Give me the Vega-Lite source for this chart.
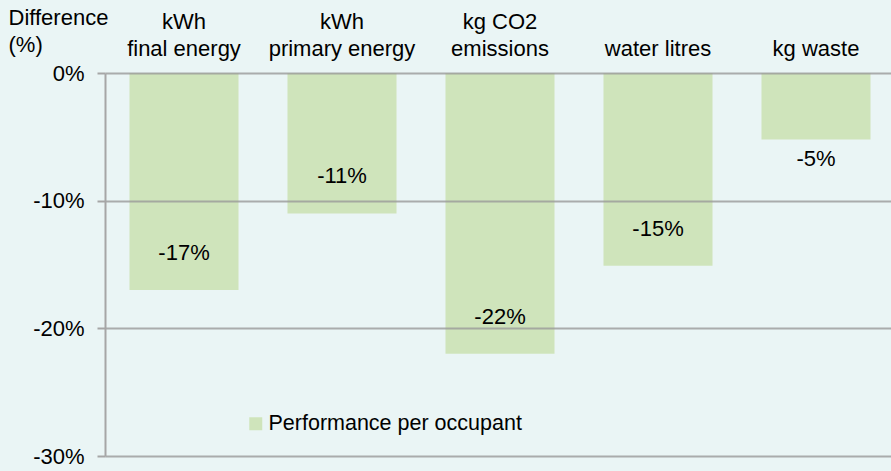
{
  "$schema": "https://vega.github.io/schema/vega-lite/v6.json",
  "width": 790,
  "height": 383,
  "autosize": {"type": "none"},
  "padding": {"left": 105, "top": 73, "right": 0, "bottom": 15},
  "background": "#eaf5f5",
  "config": {
    "locale": {"number": {"decimal": ".", "thousands": ",", "grouping": [3], "currency": ["$", ""], "minus": "-", "percent": "%"}},
    "view": {"stroke": null},
    "font": "Liberation Sans"
  },
  "data": {
    "values": [
      {"category": "kWh|final energy", "series": "Performance per occupant", "value": -0.17},
      {"category": "kWh|primary energy", "series": "Performance per occupant", "value": -0.11},
      {"category": "kg CO2|emissions", "series": "Performance per occupant", "value": -0.22},
      {"category": "|water litres", "series": "Performance per occupant", "value": -0.151},
      {"category": "|kg waste", "series": "Performance per occupant", "value": -0.052}
    ]
  },
  "encoding": {
    "x": {
      "field": "category",
      "type": "nominal",
      "sort": null,
      "scale": {"paddingInner": 0.31, "paddingOuter": 0.155},
      "axis": {
        "orient": "top",
        "title": null,
        "domain": false,
        "ticks": false,
        "labelAngle": 0,
        "labelExpr": "split(datum.label, '|')",
        "labelFontSize": 22,
        "labelLineHeight": 27,
        "labelPadding": 40,
        "labelColor": "#000000",
        "labelBaseline": "bottom",
        "labelLimit": 0
      }
    }
  },
  "layer": [
    {
      "mark": {"type": "bar"},
      "encoding": {
        "y": {
          "field": "value",
          "type": "quantitative",
          "scale": {"domain": [-0.3, 0], "nice": false},
          "axis": {
            "values": [0, -0.1, -0.2, -0.3],
            "format": ".0%",
            "title": ["Difference", "(%)"],
            "titleAngle": 0,
            "titleAlign": "left",
            "titleBaseline": "top",
            "titleX": -97,
            "titleY": -66,
            "titleFontWeight": "normal",
            "titleFontSize": 22,
            "titleLineHeight": 27,
            "titleColor": "#000000",
            "labelFontSize": 22,
            "labelColor": "#000000",
            "labelPadding": 13,
            "tickSize": 8,
            "tickWidth": 2,
            "tickColor": "#a6a6a6",
            "domainColor": "#a6a6a6",
            "domainWidth": 2,
            "grid": true,
            "gridColor": "#9a9a9a",
            "gridOpacity": 0.8,
            "gridWidth": 2,
            "zindex": 1
          }
        },
        "color": {
          "field": "series",
          "type": "nominal",
          "scale": {"range": ["#cfe4bb"]},
          "legend": {
            "orient": "none",
            "legendX": 140,
            "legendY": 340,
            "title": null,
            "symbolType": "square",
            "symbolSize": 169,
            "symbolStrokeWidth": 0,
            "labelFontSize": 21.5,
            "labelColor": "#000000",
            "labelOffset": 2,
            "labelLimit": 0
          }
        }
      }
    },
    {
      "transform": [{"filter": "datum.value < -0.08"}],
      "mark": {"type": "text", "baseline": "middle", "dy": -37, "fontSize": 22, "color": "#000000"},
      "encoding": {
        "y": {"field": "value", "type": "quantitative"},
        "text": {"field": "value", "type": "quantitative", "format": ".0%"}
      }
    },
    {
      "transform": [{"filter": "datum.value >= -0.08"}],
      "mark": {"type": "text", "baseline": "middle", "dy": 19.5, "fontSize": 22, "color": "#000000"},
      "encoding": {
        "y": {"field": "value", "type": "quantitative"},
        "text": {"field": "value", "type": "quantitative", "format": ".0%"}
      }
    }
  ]
}
